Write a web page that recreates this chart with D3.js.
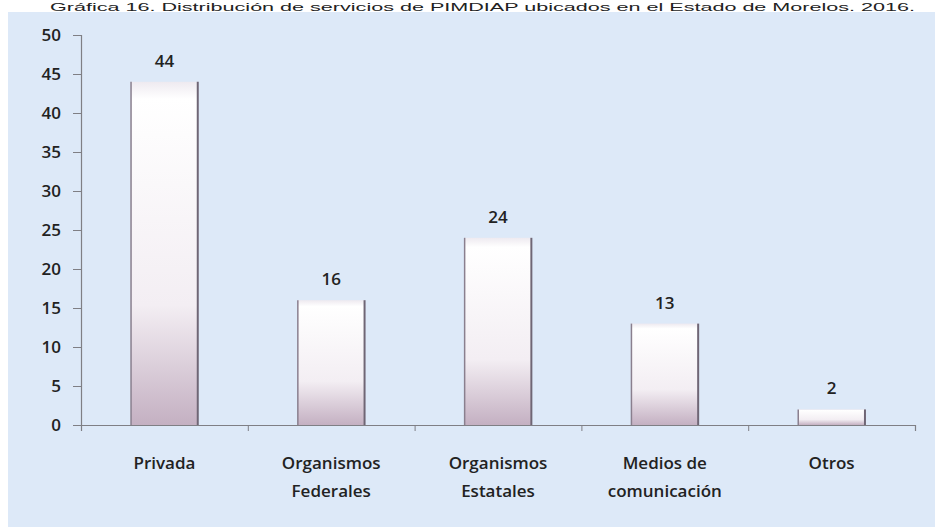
<!DOCTYPE html>
<html><head><meta charset="utf-8">
<script src="https://cdn.jsdelivr.net/npm/d3@7"></script>
<style>body{margin:0;background:#fff}svg{display:block}</style>
</head><body>
<script>
const title = "Gráfica 16. Distribución de servicios de PIMDIAP ubicados en el Estado de Morelos. 2016.";
const categories = [["Privada"],["Organismos","Federales"],["Organismos","Estatales"],["Medios de","comunicación"],["Otros"]];
const values = [44,16,24,13,2];
const yTicks = [0,5,10,15,20,25,30,35,40,45,50];

const W=935,H=527;
const svg=d3.select("body").append("svg").attr("width",W).attr("height",H);
const defs=svg.append("defs");
const g1=defs.append("linearGradient").attr("id","barg").attr("x1",0).attr("y1",0).attr("x2",0).attr("y2",1);
[[0,"#eeeaf0"],[0.05,"#ffffff"],[0.65,"#f3eef3"],[1,"#c4b0c2"]].forEach(([o,c])=>g1.append("stop").attr("offset",o).attr("stop-color",c));

svg.append("rect").attr("x",8).attr("y",12).attr("width",W-8).attr("height",H-12).attr("fill","#dde9f8");
svg.append("text").attr("x",50).attr("y",11).attr("textLength",865).attr("lengthAdjust","spacingAndGlyphs")
  .attr("font-family","Liberation Sans, Arial, sans-serif").attr("font-size",11).attr("fill","#222").text(title);

const x=d3.scaleBand().domain(d3.range(values.length)).range([81,915]).paddingInner(0.6).paddingOuter(0.3);
const y=d3.scaleLinear().domain([0,50]).range([425,35]);
const font="Open Sans, Lato, sans-serif";

// y axis
const ya=svg.append("g").attr("transform","translate(81,0)").call(d3.axisLeft(y).tickValues(yTicks).tickSize(8).tickPadding(12));
ya.select(".domain").attr("stroke","#7f7f85").attr("stroke-width",1.2);
ya.selectAll(".tick line").attr("stroke","#7f7f85");
ya.selectAll("text").attr("font-family",font).attr("font-size",17).attr("font-weight",600).attr("fill","#222");

// x axis
const xl=d3.scaleLinear().domain([0,values.length]).range([81,915]);
const xa=svg.append("g").attr("transform","translate(0,425)").call(d3.axisBottom(xl).ticks(5).tickSize(6).tickFormat(""));
xa.select(".domain").attr("stroke","#7f7f85").attr("stroke-width",1.2);
xa.selectAll(".tick line").attr("stroke","#7f7f85");
xa.selectAll(".tick").filter(d=>d===0).remove();

// bars
const bars=svg.append("g");
values.forEach((v,i)=>{
  const bx=x(i),bw=x.bandwidth(),by=y(v),bh=y(0)-y(v);
  bars.append("rect").attr("x",bx).attr("y",by).attr("width",bw).attr("height",bh).attr("fill","url(#barg)");
  bars.append("line").attr("x1",bx).attr("x2",bx).attr("y1",by).attr("y2",y(0)).attr("stroke","#8a7f8e").attr("stroke-width",1.5);
  bars.append("line").attr("x1",bx+bw).attr("x2",bx+bw).attr("y1",by).attr("y2",y(0)).attr("stroke","#6f6675").attr("stroke-width",2);
  svg.append("text").attr("x",bx+bw/2).attr("y",by-15).attr("text-anchor","middle")
    .attr("font-family",font).attr("font-size",17).attr("font-weight",600).attr("fill","#222").text(v);
});

// category labels
categories.forEach((lines,i)=>{
  const t=svg.append("text").attr("text-anchor","middle").attr("font-family",font).attr("font-size",17)
    .attr("font-weight",600).attr("fill","#222");
  lines.forEach((s,j)=>t.append("tspan").attr("x",x(i)+x.bandwidth()/2).attr("y",469+j*28).text(s));
});
</script>
</body></html>
